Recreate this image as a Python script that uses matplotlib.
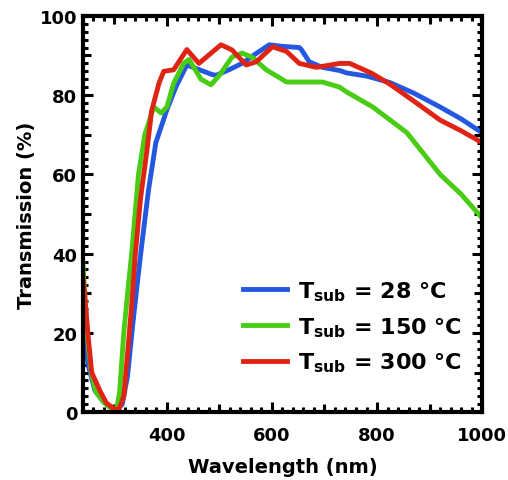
import numpy as np
import matplotlib.pyplot as plt
from matplotlib.ticker import MultipleLocator

plt.rcParams['font.family'] = ['DejaVu Sans']
plt.rcParams['font.weight'] = 'bold'
plt.rcParams['mathtext.fontset'] = 'custom'
plt.rcParams['mathtext.bf'] = 'DejaVu Sans:bold'
plt.rcParams['mathtext.rm'] = 'DejaVu Sans:bold'

# wavelength (nm) / transmission (%)
wl_28 = [240, 250, 263, 280, 295, 304, 315, 325, 335, 345, 352, 365, 379, 400, 417, 438, 460,
         486, 494, 520, 543, 570, 595, 620, 652, 656, 671, 696, 729, 742, 780, 824, 870, 920, 960, 1000]
t_28 = [22, 12, 5.5, 2.5, 1, 0.5, 2, 9, 22, 34, 42, 56, 68, 76.3, 82, 87.6, 86.5,
        85.2, 85, 86.5, 88, 90.5, 92.7, 92.3, 92, 91.5, 88.4, 87, 86.2, 85.6, 84.8, 83.2, 80.5, 77, 74, 70.5]

wl_150 = [240, 248, 256, 265, 280, 295, 304, 310, 318, 326, 333, 346, 358, 375, 389, 400,
          413, 432, 442, 465, 484, 500, 524, 543, 562, 589, 628, 652, 696, 729, 742, 792,
          857, 920, 960, 1000]
t_150 = [38, 20, 10, 5, 2.5, 0.8, 0.5, 5, 20, 31, 40, 60, 70, 77, 75.5, 77,
         83, 88, 89, 84, 82.6, 85, 89.6, 90.6, 89.6, 86.4, 83.3, 83.3, 83.3, 82, 80.8, 77,
         70.5, 60, 55, 49]

wl_300 = [240, 251, 257, 274, 285, 298, 308, 318, 326, 333, 340, 350, 362, 371, 385, 394, 413,
          438, 461, 503, 524, 551, 570, 601, 628, 652, 685, 729, 748, 790, 824, 870, 920, 960, 1000]
t_300 = [35, 18, 10, 5, 2.3, 1, 0.5, 4, 16, 27, 40, 54, 66, 76, 83, 86, 86.4,
         91.5, 88, 92.7, 91.4, 87.6, 88.4, 92.2, 91, 88, 87, 88, 88, 85.5, 82.8, 78.5, 73.7, 71, 68]

labels = [r'T$_\mathbf{sub}$ = 28 °C', r'T$_\mathbf{sub}$ = 150 °C', r'T$_\mathbf{sub}$ = 300 °C']
colors = ['#2458e0', '#48cc14', '#e02414']

fig = plt.figure(figsize=(5.08, 4.81), dpi=100)
ax = fig.add_axes([0.163, 0.141, 0.786, 0.824])

for wl, t, lab, c in zip([wl_28, wl_150, wl_300], [t_28, t_150, t_300], labels, colors):
    ax.plot(wl, t, color=c, lw=3.5, label=lab, solid_joinstyle='round')

ax.set_xlim(240, 1000)
ax.set_ylim(0, 100)
ax.xaxis.set_major_locator(MultipleLocator(200))
ax.xaxis.set_minor_locator(MultipleLocator(20))
ax.yaxis.set_major_locator(MultipleLocator(20))
ax.yaxis.set_minor_locator(MultipleLocator(2))
ax.tick_params(which='both', direction='in', top=True, right=True, width=2.2,
               labelsize=13)
ax.tick_params(axis='x', pad=10)
ax.tick_params(axis='y', pad=4)
ax.tick_params(which='major', length=7)
ax.tick_params(which='minor', length=3.5)
for sp in ax.spines.values():
    sp.set_linewidth(3)

# medium ticks at the odd hundreds / tens
for side in ['bottom', 'top']:
    sec = ax.secondary_xaxis(side)
    sec.set_xticks([300, 500, 700, 900])
    sec.tick_params(direction='in', length=5.5, width=2.2, labelbottom=False, labeltop=False)
    sec.spines[side].set_visible(False)
for side in ['left', 'right']:
    sec = ax.secondary_yaxis(side)
    sec.set_yticks([10, 30, 50, 70, 90])
    sec.tick_params(direction='in', length=5.5, width=2.2, labelleft=False, labelright=False)
    sec.spines[side].set_visible(False)

ax.set_xlabel('Wavelength (nm)', fontsize=14, fontweight='bold', labelpad=9)
ax.set_ylabel('Transmission (%)', fontsize=14, fontweight='bold', labelpad=3)

leg = ax.legend(loc='lower right', bbox_to_anchor=(1.0, 0.045), frameon=False, fontsize=16,
                handlelength=2.0, handletextpad=0.5, labelspacing=0.55)

fig.savefig('out.png', dpi=100)
